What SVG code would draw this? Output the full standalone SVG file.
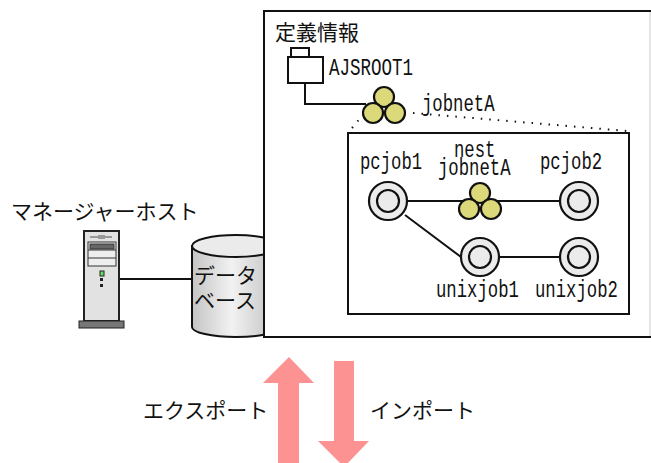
<svg xmlns="http://www.w3.org/2000/svg" width="651" height="463" viewBox="0 0 651 463">
<style>
text{fill:#111}
.jp{font-family:"Noto Sans CJK JP","Noto Sans",sans-serif;font-size:21px}
.mono{font-family:"Liberation Mono",monospace;font-size:24px}
.ln{fill:none;stroke:#111;stroke-width:2}
.y{fill:#dcd97a;stroke:#111;stroke-width:2.2}
.j{fill:#ebebeb;stroke:#111;stroke-width:2.2}
.a{fill:#fc9292}
</style>
<defs>
<linearGradient id="cyl" x1="0" x2="1" y1="0" y2="0"><stop offset="0" stop-color="#c4c4c4"/><stop offset=".45" stop-color="#f2f2f2"/><stop offset="1" stop-color="#bdbdbd"/></linearGradient>
<g id="job"><circle class="j" r="19"/><circle class="j" r="11"/></g>
<g id="net"><circle class="y" cx="0" cy="-8" r="10"/><circle class="y" cx="-11" cy="8" r="10"/><circle class="y" cx="11" cy="8" r="10"/></g>
</defs>
<rect width="651" height="463" fill="#fff"/>
<g id="database">
<path d="M192 246V327A44 10 0 0 0 280 327V246Z" fill="url(#cyl)" stroke="#111" stroke-width="2"/>
<ellipse cx="236" cy="246" rx="44" ry="11" fill="#ebebeb" stroke="#111" stroke-width="2"/>
</g>
<g id="definition-frame"><rect x="264" y="11" width="386" height="326" fill="#fff"/>
<path d="M650 11V337" fill="none" stroke="#ccc" stroke-width="1"/>
<path class="ln" d="M651 11H264V337H651"/>
<text class="jp" x="275" y="40">定義情報</text></g>
<g id="db-label"><text class="jp" x="194" y="283">データ</text><text class="jp" x="194" y="308">ベース</text></g>
<g id="connectors">
<path class="ln" d="M305 83V104H366"/>
<path class="ln" d="M119 279H192"/>
<path class="ln" d="M388 201H579M405 215L461 257M480 257H579"/>
<path fill="none" stroke="#111" stroke-width="2" stroke-dasharray="1.5 7" d="M352 128L362 116M413 113L627 131"/>
</g>
<g id="AJSROOT1"><rect class="ln" x="291" y="48" width="18" height="9" fill="#fff"/><rect class="ln" x="288" y="57" width="35" height="26"/>
<text class="mono" transform="translate(329 75) scale(.73 1)">AJSROOT1</text></g>
<g id="jobnetA"><use href="#net" x="384" y="105"/>
<text class="mono" transform="translate(422 111) scale(.72 1)">jobnetA</text></g>
<g id="detail-frame"><rect class="ln" x="348" y="133" width="281" height="181"/></g>
<g id="pcjob1"><use href="#job" x="388" y="201"/><text class="mono" transform="translate(360 169) scale(.72 1)">pcjob1</text></g>
<g id="nestjobnetA"><use href="#net" x="480" y="201"/><text class="mono" transform="translate(454 157) scale(.72 1)">nest</text><text class="mono" transform="translate(438 175) scale(.72 1)">jobnetA</text></g>
<g id="pcjob2"><use href="#job" x="579" y="201"/><text class="mono" transform="translate(540 169) scale(.72 1)">pcjob2</text></g>
<g id="unixjob1"><use href="#job" x="480" y="257"/><text class="mono" transform="translate(436 297) scale(.72 1)">unixjob1</text></g>
<g id="unixjob2"><use href="#job" x="579" y="257"/><text class="mono" transform="translate(535 297) scale(.72 1)">unixjob2</text></g>
<g id="manager-host">
<text class="jp" x="11" y="219">マネージャーホスト</text>
<rect x="84" y="231" width="35" height="90" fill="#e2e2e2" stroke="#222" stroke-width="2"/>
<rect x="79" y="321" width="45" height="7" fill="#777" stroke="#222" stroke-width="1"/>
<path d="M90 237H112" stroke="#999" stroke-width="2"/><rect x="98" y="235" width="7" height="4" fill="#999"/>
<rect x="88" y="242" width="28" height="24" fill="#eee" stroke="#333"/>
<path d="M88 250H116M88 258H116" stroke="#333"/>
<rect x="90" y="244" width="24" height="5" fill="#666" stroke="#333"/>
<rect x="100" y="271" width="4" height="5" fill="#5fe05f" stroke="#222"/>
<rect x="100" y="278" width="3" height="3" fill="#222"/><rect x="100" y="284" width="3" height="3" fill="#222"/>
</g>
<g id="export"><path class="a" d="M289 357L314 383H299V463H278V383H263Z"/><text class="jp" x="143" y="418">エクスポート</text></g>
<g id="import"><path class="a" d="M334 361H354V441H369L344 467L318 441H334Z"/><text class="jp" x="370" y="418">インポート</text></g>
</svg>
